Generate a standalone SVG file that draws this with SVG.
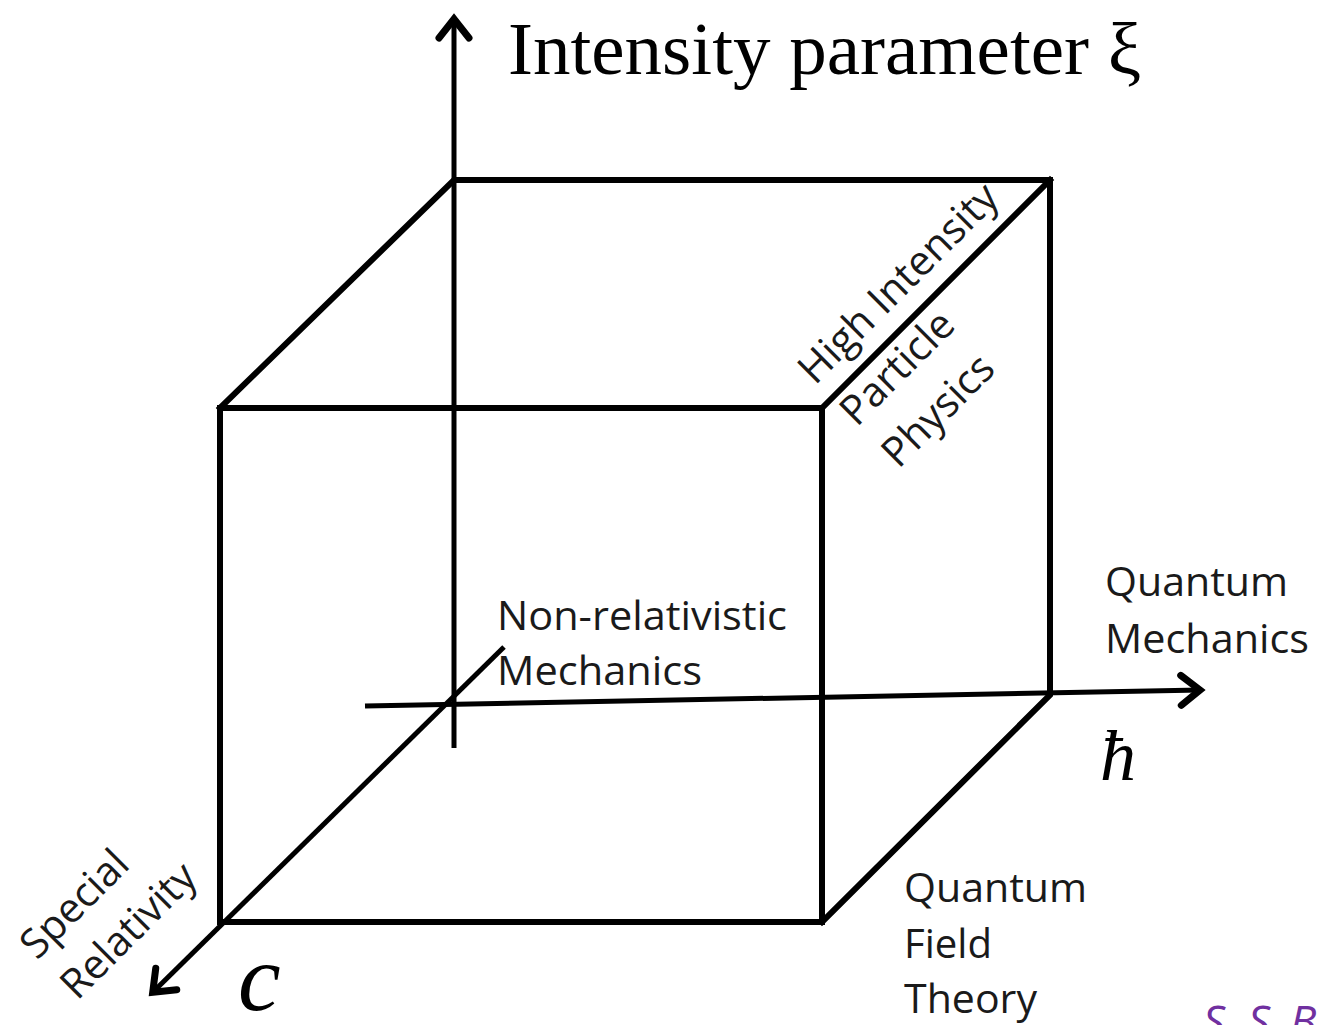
<svg xmlns="http://www.w3.org/2000/svg" width="1317" height="1025" viewBox="0 0 1317 1025">
<style>
.ln{stroke:#000;stroke-width:6;fill:none;stroke-linecap:square}
.ax{stroke:#000;stroke-width:5;fill:none}
.lbl{font-family:"Open Sans","Liberation Sans",sans-serif;font-size:41px;fill:#1a1a1a}
.math{font-family:"Liberation Serif",serif;font-style:italic;fill:#000}
</style>
<defs>
<marker id="arr" markerUnits="userSpaceOnUse" markerWidth="40" markerHeight="40" viewBox="-30 -20 40 40" refX="0" refY="0" orient="auto">
<path d="M-20,-15 L-1,0 L-20,15" fill="none" stroke="#000" stroke-width="7" stroke-linejoin="miter" stroke-linecap="round"/>
</marker>
</defs>
<rect width="1317" height="1025" fill="#fff"/>
<g id="box">
<rect class="ln" x="220" y="408" width="602" height="514"/>
<polyline class="ln" points="220,408 454,180 1050,180 1050,695 822,922"/>
<line class="ln" x1="822" y1="408" x2="1050" y2="180"/>
</g>
<g id="connectors">
<line class="ax" x1="454" y1="748" x2="454" y2="18" marker-end="url(#arr)"/>
<line class="ax" x1="365" y1="706" x2="1201" y2="690" marker-end="url(#arr)"/>
<line class="ax" x1="504" y1="647" x2="152" y2="993" marker-end="url(#arr)"/>
</g>
<g id="title">
<text x="508" y="74" font-family="Liberation Serif, serif" font-size="75" fill="#000">Intensity parameter ξ</text>
</g>
<g id="non-relativistic">
<text class="lbl" x="497" y="630" textLength="290" lengthAdjust="spacingAndGlyphs">Non-relativistic</text>
<text class="lbl" x="497" y="685" textLength="205" lengthAdjust="spacingAndGlyphs">Mechanics</text>
</g>
<g id="quantum-mechanics">
<text class="lbl" x="1105" y="596" textLength="183" lengthAdjust="spacingAndGlyphs">Quantum</text>
<text class="lbl" x="1105" y="653" textLength="204" lengthAdjust="spacingAndGlyphs">Mechanics</text>
</g>
<g id="qft">
<text class="lbl" x="904" y="902" textLength="183" lengthAdjust="spacingAndGlyphs">Quantum</text>
<text class="lbl" x="904" y="958" textLength="88" lengthAdjust="spacingAndGlyphs">Field</text>
<text class="lbl" x="904" y="1013" textLength="133" lengthAdjust="spacingAndGlyphs">Theory</text>
</g>
<g id="high-intensity" transform="translate(815,386) rotate(-45)">
<text class="lbl" x="0" y="0">High Intensity</text>
<text class="lbl" x="0" y="59">Particle</text>
<text class="lbl" x="0" y="118">Physics</text>
</g>
<g id="special-relativity" transform="translate(37,961) rotate(-45)">
<text class="lbl" x="0" y="0">Special</text>
<text class="lbl" x="0" y="57">Relativity</text>
</g>
<g id="hbar"><text class="math" x="1100" y="780" font-size="72">ħ</text></g>
<g id="c-label"><text class="math" x="238" y="1010" font-size="96">c</text></g>
<g id="credit"><text x="1203 1248 1290" y="1037" font-family="Open Sans, sans-serif" font-style="italic" font-size="44" fill="#7030A0">SSB</text></g>
</svg>
